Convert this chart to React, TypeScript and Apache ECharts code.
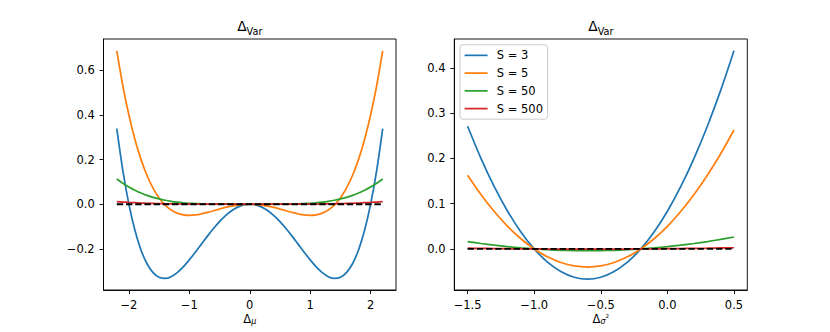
import React, { useEffect, useRef } from "react";
import * as echarts from "echarts";

// Left panel: Δμ grid
const leftX = [-2.2, -2.1, -2.0, -1.9, -1.8, -1.7, -1.6, -1.5, -1.4, -1.3, -1.2, -1.1, -1.0, -0.9, -0.8, -0.7, -0.6, -0.5, -0.4, -0.3, -0.2, -0.1, 0, 0.1, 0.2, 0.3, 0.4, 0.5, 0.6, 0.7, 0.8, 0.9, 1.0, 1.1, 1.2, 1.3, 1.4, 1.5, 1.6, 1.7, 1.8, 1.9, 2.0, 2.1, 2.2];
const leftS3 = [0.3388, 0.1507, 0, -0.1173, -0.2052, -0.2673, -0.3072, -0.3281, -0.3332, -0.3253, -0.3072, -0.2813, -0.25, -0.2153, -0.1792, -0.1433, -0.1092, -0.0781, -0.0512, -0.0293, -0.0132, -0.0033, 0, -0.0033, -0.0132, -0.0293, -0.0512, -0.0781, -0.1092, -0.1433, -0.1792, -0.2153, -0.25, -0.2813, -0.3072, -0.3253, -0.3332, -0.3281, -0.3072, -0.2673, -0.2052, -0.1173, 0, 0.1507, 0.3388];
const leftS5 = [0.6873, 0.5314, 0.4, 0.2906, 0.2009, 0.1286, 0.0717, 0.0281, -0.0039, -0.0262, -0.0403, -0.0478, -0.05, -0.0482, -0.0435, -0.037, -0.0295, -0.0219, -0.0147, -0.0086, -0.0039, -0.001, 0, -0.001, -0.0039, -0.0086, -0.0147, -0.0219, -0.0295, -0.037, -0.0435, -0.0482, -0.05, -0.0478, -0.0403, -0.0262, -0.0039, 0.0281, 0.0717, 0.1286, 0.2009, 0.2906, 0.4, 0.5314, 0.6873];
const leftS50 = [0.1132, 0.0936, 0.0767, 0.0622, 0.0498, 0.0394, 0.0307, 0.0235, 0.0176, 0.0129, 0.0092, 0.0063, 0.0042, 0.0026, 0.0015, 0.0008, 0.0004, 0.0001, 0, 0, 0, 0, 0, 0, 0, 0, 0, 0.0001, 0.0004, 0.0008, 0.0015, 0.0026, 0.0042, 0.0063, 0.0092, 0.0129, 0.0176, 0.0235, 0.0307, 0.0394, 0.0498, 0.0622, 0.0767, 0.0936, 0.1132];
const leftS500 = [0.0117, 0.0097, 0.008, 0.0065, 0.0052, 0.0042, 0.0033, 0.0025, 0.0019, 0.0014, 0.001, 0.0007, 0.0005, 0.0003, 0.0002, 0.0001, 0.0001, 0, 0, 0, 0, 0, 0, 0, 0, 0, 0, 0, 0.0001, 0.0001, 0.0002, 0.0003, 0.0005, 0.0007, 0.001, 0.0014, 0.0019, 0.0025, 0.0033, 0.0042, 0.0052, 0.0065, 0.008, 0.0097, 0.0117];
const leftRefX = [-2.2, 2.2];
const leftRefY = [0, 0];

// Right panel: Δσ² grid
const rightX = [-1.5, -1.4, -1.3, -1.2, -1.1, -1.0, -0.9, -0.8, -0.7, -0.6, -0.5, -0.4, -0.3, -0.2, -0.1, 0, 0.1, 0.2, 0.3, 0.4, 0.5];
const rightS3 = [0.2708, 0.2, 0.1375, 0.0833, 0.0375, 0, -0.0292, -0.05, -0.0625, -0.0667, -0.0625, -0.05, -0.0292, 0, 0.0375, 0.0833, 0.1375, 0.2, 0.2708, 0.35, 0.4375];
const rightS5 = [0.1625, 0.12, 0.0825, 0.05, 0.0225, 0, -0.0175, -0.03, -0.0375, -0.04, -0.0375, -0.03, -0.0175, 0, 0.0225, 0.05, 0.0825, 0.12, 0.1625, 0.21, 0.2625];
const rightS50 = [0.0163, 0.012, 0.0083, 0.005, 0.0023, 0, -0.0018, -0.003, -0.0038, -0.004, -0.0038, -0.003, -0.0018, 0, 0.0023, 0.005, 0.0083, 0.012, 0.0163, 0.021, 0.0263];
const rightS500 = [0.0016, 0.0012, 0.0008, 0.0005, 0.0002, 0, -0.0002, -0.0003, -0.0004, -0.0004, -0.0004, -0.0003, -0.0002, 0, 0.0002, 0.0005, 0.0008, 0.0012, 0.0016, 0.0021, 0.0026];
const rightRefX = [-1.5, 0.5];
const rightRefY = [0, 0];

const seriesNames = ["S = 3", "S = 5", "S = 50", "S = 500"];
const leftTicksX = [-2, -1, 0, 1, 2];
const leftTicksY = [-0.2, 0, 0.2, 0.4, 0.6];
const rightTicksX = [-1.5, -1.0, -0.5, 0, 0.5];
const rightTicksY = [0, 0.1, 0.2, 0.3, 0.4];

const COLORS = ["#1f77b4", "#ff7f0e", "#2ca02c", "#d62728"];
const F = "DejaVu Sans";
const FS = 11.5;

const zip = (xs: number[], ys: number[]) => xs.map((x, i) => [x, ys[i]]);

const fmtInt = (v: number) => String(Math.round(v)).replace("-", "\u2212");
const fmt1 = (v: number) => (Math.abs(v) < 1e-9 ? "0.0" : v.toFixed(1).replace("-", "\u2212"));

function axisCommon(ticks: number[], formatter: (v: number) => string, isX: boolean) {
  return {
    type: "value" as const,
    splitLine: { show: false },
    axisLine: { show: true, onZero: false, lineStyle: { color: "#000", width: 0.92 } },
    axisTick: { show: true, customValues: ticks, length: 4, lineStyle: { color: "#000", width: 0.92 } },
    axisLabel: {
      customValues: ticks,
      formatter,
      color: "#000",
      fontSize: FS,
      fontFamily: F,
      margin: isX ? 8.5 : 8.8,
    },
  };
}

export default function App() {
  const ref = useRef<HTMLDivElement>(null);
  useEffect(() => {
    const chart = echarts.init(ref.current!, null, { renderer: "svg" });
    const lineSeries = (name: string, data: number[][], color: string, idx: number) => ({
      type: "line" as const,
      name,
      data,
      xAxisIndex: idx,
      yAxisIndex: idx,
      symbol: "none",
      smooth: 0.3,
      silent: true,
      lineStyle: { color, width: 1.73 },
      itemStyle: { color },
      emphasis: { disabled: true },
    });
    const refSeries = (data: number[][], idx: number) => ({
      type: "line" as const,
      name: "ref" + idx,
      data,
      xAxisIndex: idx,
      yAxisIndex: idx,
      symbol: "none",
      silent: true,
      lineStyle: { color: "#000", width: 1.9, type: [6.4, 2.8] },
      emphasis: { disabled: true },
    });
    const leftYs = [leftS3, leftS5, leftS50, leftS500];
    const rightYs = [rightS3, rightS5, rightS50, rightS500];
    const richBase = { fontFamily: F, fill: "#000" };
    const titleRich = {
      a: { ...richBase, fontSize: 13.8, lineHeight: 18, verticalAlign: "top" },
      b: { ...richBase, fontSize: 9.7, lineHeight: 10, verticalAlign: "bottom" },
    };
    chart.setOption({
      animation: false,
      grid: [
        { left: 103.5, top: 39, width: 292.5, height: 251, show: true, borderColor: "#000", borderWidth: 0.92, backgroundColor: "transparent" },
        { left: 454.3, top: 39, width: 293, height: 251, show: true, borderColor: "#000", borderWidth: 0.92, backgroundColor: "transparent" },
      ],
      xAxis: [
        { ...axisCommon(leftTicksX, fmtInt, true), gridIndex: 0, min: -2.42, max: 2.42 },
        { ...axisCommon(rightTicksX, fmt1, true), gridIndex: 1, min: -1.6, max: 0.6 },
      ],
      yAxis: [
        { ...axisCommon(leftTicksY, fmt1, false), gridIndex: 0, min: -0.385, max: 0.741 },
        { ...axisCommon(rightTicksY, fmt1, false), gridIndex: 1, min: -0.0907, max: 0.4635 },
      ],
      legend: {
        data: seriesNames,
        orient: "vertical",
        left: 460,
        top: 44.75,
        icon: "rect",
        itemWidth: 23,
        itemHeight: 1.73,
        itemGap: 5.75,
        padding: [4.6, 4.6, 4.6, 4.6],
        borderColor: "#cccccc",
        borderWidth: 1,
        borderRadius: 3,
        backgroundColor: "rgba(255,255,255,0.8)",
        selectedMode: false,
        textStyle: { fontSize: FS, fontFamily: F, color: "#000", lineHeight: 11.5, padding: [0, 0, 0, 4.2] },
      },
      series: [
        ...leftYs.map((ys, i) => lineSeries(seriesNames[i], zip(leftX, ys), COLORS[i], 0)),
        refSeries(zip(leftRefX, leftRefY), 0),
        ...rightYs.map((ys, i) => lineSeries(seriesNames[i], zip(rightX, ys), COLORS[i], 1)),
        refSeries(zip(rightRefX, rightRefY), 1),
      ],
      graphic: [
        {
          type: "text",
          x: 249.75,
          y: 27.5,
          silent: true,
          style: { text: "{a|\u0394}{b|Var}", align: "center", verticalAlign: "middle", rich: titleRich },
        },
        {
          type: "text",
          x: 600.8,
          y: 27.5,
          silent: true,
          style: { text: "{a|\u0394}{b|Var}", align: "center", verticalAlign: "middle", rich: titleRich },
        },
        {
          type: "text",
          x: 249.75,
          y: 319,
          silent: true,
          style: {
            text: "{a|\u0394}{b|\u03bc}",
            align: "center",
            verticalAlign: "middle",
            rich: {
              a: { ...richBase, fontSize: FS, lineHeight: 12, verticalAlign: "top" },
              b: { ...richBase, fontSize: 8, lineHeight: 6, verticalAlign: "bottom", fontStyle: "italic" },
            },
          },
        },
        {
          type: "text",
          x: 600.8,
          y: 319,
          silent: true,
          style: {
            text: "{a|\u0394}{b|\u03c3}{c|2}",
            align: "center",
            verticalAlign: "middle",
            rich: {
              a: { ...richBase, fontSize: FS, lineHeight: 12, verticalAlign: "top" },
              b: { ...richBase, fontSize: 8, lineHeight: 6, verticalAlign: "bottom", fontStyle: "italic" },
              c: { ...richBase, fontSize: 5.6, lineHeight: 7, verticalAlign: "top" },
            },
          },
        },
      ],
    });
    return () => chart.dispose();
  }, []);
  return <div ref={ref} style={{ position: "absolute", left: 0, top: 0, width: 830, height: 332 }} />;
}
